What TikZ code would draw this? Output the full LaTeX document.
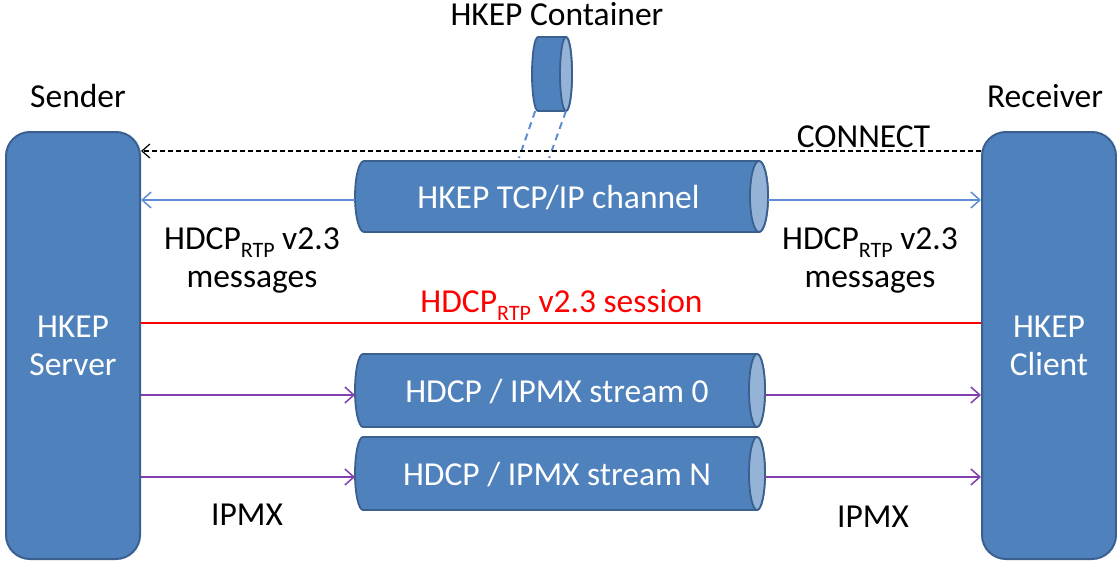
\documentclass[tikz,border=0pt]{standalone}
\usepackage{fontspec}
\setmainfont{Carlito}
\usetikzlibrary{arrows.meta,calc}

\definecolor{boxfill}{HTML}{4F81BD}
\definecolor{boxline}{HTML}{3A6090}
\definecolor{endfill}{HTML}{95B3D7}
\definecolor{msgblue}{HTML}{5E8ED2}
\definecolor{streamviolet}{HTML}{8040B0}
\definecolor{sessred}{HTML}{FF0000}

% lowered, smaller index text (HDCP_RTP)
\newcommand\lowidx[1]{\raisebox{-8pt}{\fontsize{22}{22}\selectfont #1}}

% horizontal pipe: name, centre, length, diameter, end radius, text
\newcommand\tube[6]{%
  \node[tubeframe, minimum width=#3pt, minimum height=#4pt] (#1) at #2 {};
  \path[tubebody] let \p1=(#1.north west), \p2=(#1.south east), \n1={(\y1-\y2)/2} in
    (\x2-#5pt,\y1) -- (\x1+#5pt,\y1)
    arc[start angle=90, end angle=270, x radius=#5pt, y radius=\n1]
    -- (\x2-#5pt,\y2)
    arc[start angle=-90, end angle=90, x radius=#5pt, y radius=\n1] -- cycle;
  \path[tubeend] let \p1=(#1.north east), \p2=(#1.south east), \n1={(\y1-\y2)/2} in
    (\x1-#5pt,\y1-\n1) ellipse[x radius=#5pt, y radius=\n1];
  \node[tubetext] at ($(#1.center)+(-3,1)$) {#6};
}

\begin{document}
\begin{tikzpicture}[x=1pt, y=-1pt,
  font=\fontsize{33.5}{38}\selectfont,
  party/.style={rectangle, rounded corners=24pt, fill=boxfill, draw=boxline,
    line width=2pt, minimum width=134pt, minimum height=427pt, text=white,
    align=center, inner sep=0pt},
  tubeframe/.style={rectangle, inner sep=0pt, outer sep=0pt},
  tubebody/.style={fill=boxfill, draw=boxline, line width=1.8pt},
  tubeend/.style={fill=endfill, draw=boxline, line width=1.8pt},
  tubetext/.style={text=white, inner sep=0pt},
  caption/.style={anchor=base, inner sep=0pt, align=center},
  msg/.style={draw=msgblue, line width=1.5pt, -{Straight Barb[length=9pt,width=16pt]}},
  stream/.style={draw=streamviolet, line width=1.5pt, -{Straight Barb[length=9pt,width=16pt]}},
  connect/.style={draw=black, line width=1.2pt, dash pattern=on 5pt off 3pt,
    -{Straight Barb[length=8pt,width=14pt]}},
  session/.style={draw=sessred, line width=1.5pt},
  holds/.style={draw=msgblue, line width=2pt, dash pattern=on 7pt off 5pt}
]
\useasboundingbox (0,0) rectangle (1117,562);

% end points
\node[party] (srv) at (73,345.5) {HKEP\\Server};
\node[party] (cli) at (1049,345.5) {HKEP\\Client};
\node[caption] (sndlbl) at (78,107) {Sender};
\node[caption] (rcvlbl) at (1045,107) {Receiver};

% pipes
\tube{tcp}{(561.5,196.5)}{413}{71}{9}{HKEP TCP/IP channel}
\tube{s0}{(560,390.5)}{410}{73}{8}{HDCP / IPMX stream 0}
\tube{sN}{(560,473.5)}{410}{73}{8}{HDCP / IPMX stream N}
\tube{cont}{(552,74)}{40}{74}{6}{}
\node[caption] (contlbl) at (557,25) {HKEP Container};

% container carried in the TCP/IP channel
\draw[holds] ($(cont.south west)!0.08!(cont.south east)$) -- ($(tcp.north west)!0.397!(tcp.north east)+(0,-3)$);
\draw[holds] ($(cont.south west)!0.85!(cont.south east)$) -- ($(tcp.north west)!0.47!(tcp.north east)+(0,-3)$);

% row heights of the connectors
\coordinate (rowconn) at (0,151);
\coordinate (rowmsg) at (0,200);
\coordinate (rowsess) at (0,323);
\coordinate (rowzero) at (0,395);
\coordinate (rowlast) at (0,477);

% CONNECT
\draw[connect] (cli.west |- rowconn) -- (srv.east |- rowconn);
\node[caption] (connlbl) at (863.5,147) {CONNECT};

% HDCP messages over the TCP/IP channel
\draw[msg] (tcp.west |- rowmsg) -- (srv.east |- rowmsg);
\draw[msg] (tcp.east |- rowmsg) -- (cli.west |- rowmsg);
\node[caption] (msgl) at (252,287) {HDCP\lowidx{RTP} v2.3\\messages};
\node[caption] (msgr) at (870,287) {HDCP\lowidx{RTP} v2.3\\messages};

% session
\draw[session] (srv.east |- rowsess) -- (cli.west |- rowsess);
\node[caption, text=sessred] (sesslbl) at (561.5,312) {HDCP\lowidx{RTP} v2.3 session};

% streams
\draw[stream] (srv.east |- rowzero) -- (s0.west |- rowzero);
\draw[stream] (s0.east |- rowzero) -- (cli.west |- rowzero);
\draw[stream] (srv.east |- rowlast) -- (sN.west |- rowlast);
\draw[stream] (sN.east |- rowlast) -- (cli.west |- rowlast);
\node[caption] (ipmxl) at (247,525) {IPMX};
\node[caption] (ipmxr) at (873,527) {IPMX};
\end{tikzpicture}
\end{document}
